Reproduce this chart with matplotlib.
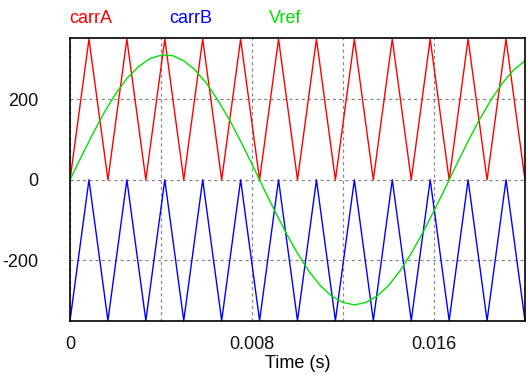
import matplotlib
matplotlib.use("Agg")
import matplotlib.pyplot as plt
import numpy as np

plt.rcParams["font.family"] = ["Liberation Sans", "DejaVu Sans"]

# carrier vertices (600 Hz triangle), one every half period
carr_t = np.arange(25) / 1200.0
carrA = [0, 350, 0, 350, 0, 350, 0, 350, 0, 350, 0, 350, 0,
         350, 0, 350, 0, 350, 0, 350, 0, 350, 0, 350, 0]
carrB = [-350, 0, -350, 0, -350, 0, -350, 0, -350, 0, -350, 0, -350,
         0, -350, 0, -350, 0, -350, 0, -350, 0, -350, 0, -350]

# reference voltage read every 0.5 ms
vref_t = np.arange(41) * 0.0005
vref = [0, 58, 114, 167, 213, 252, 281, 301, 310, 309, 296, 273, 240, 198,
        150, 96, 39, -20, -77, -132, -183, -227, -263, -289, -305, -311,
        -305, -289, -263, -227, -183, -132, -77, -20, 39, 96, 150, 198,
        240, 273, 296]

xticks = [0, 0.004, 0.008, 0.012, 0.016]
xlabels = ["0", "", "0.008", "", "0.016"]
yticks = [-200, 0, 200]

fig = plt.figure(figsize=(5.28, 3.78), dpi=100)
ax = fig.add_axes([0.1326, 0.1508, 0.8617, 0.748])

ax.plot(carr_t, carrA, color="#ff0000", lw=1.0)
ax.plot(carr_t, carrB, color="#0000ff", lw=1.0)
ax.plot(vref_t, vref, color="#00e000", lw=1.0)

ax.set_xlim(0, 0.02)
ax.set_ylim(-351, 352)
ax.set_xticks(xticks)
ax.set_xticklabels(xlabels)
ax.set_yticks(yticks)
ax.set_yticklabels(["-200", "0", "200"])
ax.tick_params(length=0, labelsize=13, colors="#111111")
ax.tick_params(axis="x", pad=11)
ax.tick_params(axis="y", pad=23)
ax.grid(True, color="#888888", linestyle=(0, (2.5, 2.5)), lw=0.9)
for s in ax.spines.values():
    s.set_color("black")
    s.set_linewidth(1.2)
ax.set_xlabel("Time (s)", fontsize=13, labelpad=1)

fig.text(0.1312, 0.952, "carrA", color="#ff0000", fontsize=13, va="center")
fig.text(0.3207, 0.952, "carrB", color="#0000ff", fontsize=13, va="center")
fig.text(0.510, 0.952, "Vref", color="#00e000", fontsize=13, va="center")

fig.savefig("out.png", dpi=100)
